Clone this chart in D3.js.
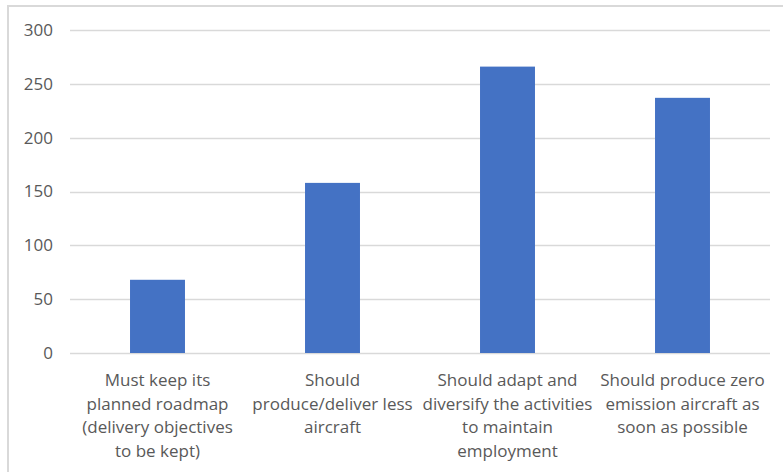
<!DOCTYPE html>
<html><head><meta charset="utf-8">
<script src="https://cdn.jsdelivr.net/npm/d3@7"></script>
<style>body{margin:0;background:#fff;}svg{display:block;}</style>
</head><body>
<div id="chart"></div>
<script>
const categories = [
  "Must keep its planned roadmap (delivery objectives to be kept)",
  "Should produce/deliver less aircraft",
  "Should adapt and diversify the activities to maintain employment",
  "Should produce zero emission aircraft as soon as possible"
];
const categoryLines = [
  ["Must keep its", "planned roadmap", "(delivery objectives", "to be kept)"],
  ["Should", "produce/deliver less", "aircraft"],
  ["Should adapt and", "diversify the activities", "to maintain", "employment"],
  ["Should produce zero", "emission aircraft as", "soon as possible"]
];
const values = [68, 158, 266, 237];
const yTicks = [0, 50, 100, 150, 200, 250, 300];

(function () {
const W = 783, H = 472;
const svg = d3.select("#chart").append("svg").attr("width", W).attr("height", H);

svg.append("line").attr("x1", 7).attr("x2", W).attr("y1", 6).attr("y2", 6)
  .attr("stroke", "#d9d9d9").attr("stroke-width", 2);
svg.append("line").attr("x1", 8).attr("x2", 8).attr("y1", 5).attr("y2", H)
  .attr("stroke", "#d9d9d9").attr("stroke-width", 2);

const mL = 70, mR = 770, mT = 30, mB = 353;
const x = d3.scaleBand().domain(categories).range([mL, mR]).paddingInner(0.686).paddingOuter(0.343);
const y = d3.scaleLinear().domain([0, 300]).range([mB, mT]);

const font = "'Open Sans', sans-serif";

svg.append("g").selectAll("line").data(yTicks).join("line")
  .attr("x1", mL).attr("x2", mR)
  .attr("y1", d => Math.round(y(d)) + 0.5).attr("y2", d => Math.round(y(d)) + 0.5)
  .attr("stroke", "#d9d9d9").attr("stroke-width", 1.3);

const yAxis = d3.axisLeft(y).tickValues(yTicks).tickSize(0).tickPadding(0);
const ga = svg.append("g").attr("transform", `translate(${53},0)`).call(yAxis);
ga.select(".domain").remove();
ga.selectAll("text").attr("fill", "#595959").attr("font-size", "17px")
  .attr("font-family", font);

svg.append("g").selectAll("rect").data(values).join("rect")
  .attr("x", (d, i) => x(categories[i]))
  .attr("width", x.bandwidth())
  .attr("y", d => y(d))
  .attr("height", d => y(0) - y(d))
  .attr("fill", "#4472c4");

const gl = svg.append("g");
categories.forEach((c, i) => {
  const cx = x(c) + x.bandwidth() / 2;
  const t = gl.append("text").attr("text-anchor", "middle")
    .attr("fill", "#595959").attr("font-size", "17px").attr("font-family", font);
  categoryLines[i].forEach((ln, j) => {
    t.append("tspan").attr("x", cx).attr("y", 386 + j * 23.5).text(ln);
  });
});
})();
</script>
</body></html>
